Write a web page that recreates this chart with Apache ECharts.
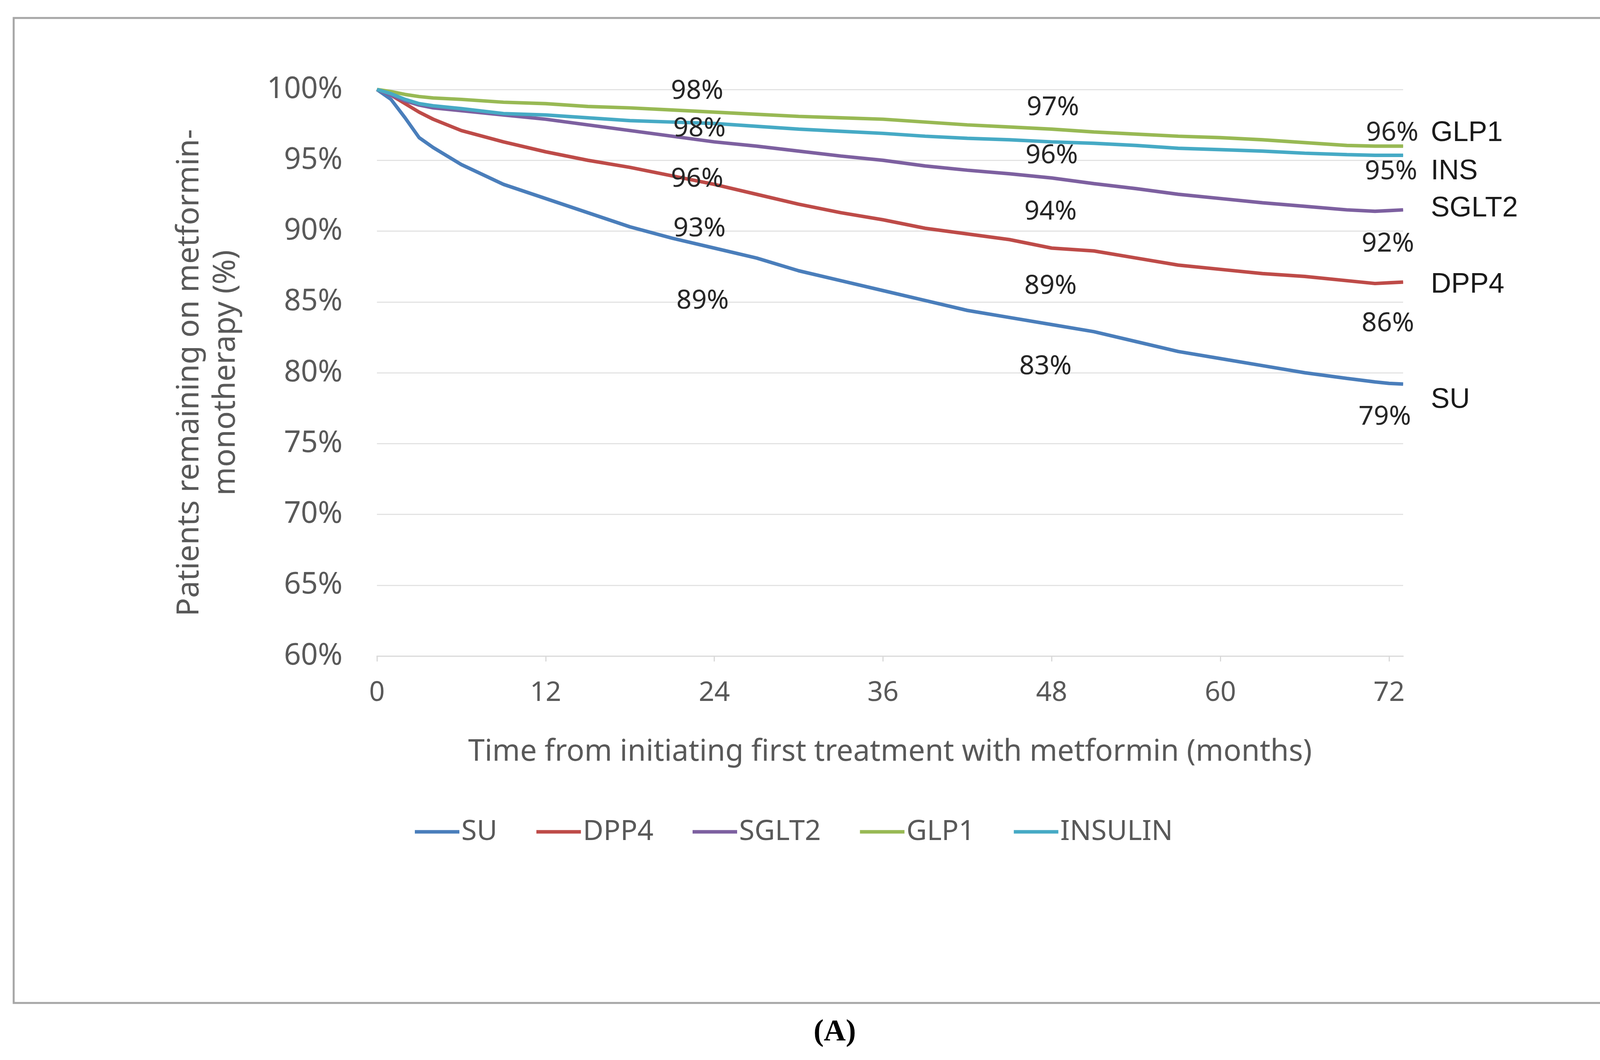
<!DOCTYPE html>
<html>
<head>
<meta charset="utf-8">
<script src="https://cdn.jsdelivr.net/npm/echarts@6/dist/echarts.min.js"></script>
<style>
html,body{margin:0;padding:0;background:#fff;}
#chart{width:4273px;height:2713px;}
</style>
</head>
<body>
<div id="chart"></div>
<script>
// ---- data ----
const months = [0,1,2,3,4,6,9,12,15,18,21,24,27,30,33,36,39,42,45,48,51,54,57,60,63,66,69,71,72,73];
const su    = [100,99.3,98.0,96.6,95.9,94.7,93.3,92.3,91.3,90.3,89.5,88.8,88.1,87.2,86.5,85.8,85.1,84.4,83.9,83.4,82.9,82.2,81.5,81.0,80.5,80.0,79.6,79.35,79.25,79.2];
const dpp4  = [100,99.6,99.0,98.4,97.9,97.1,96.3,95.6,95.0,94.5,93.9,93.3,92.6,91.9,91.3,90.8,90.2,89.8,89.4,88.8,88.6,88.1,87.6,87.3,87.0,86.8,86.5,86.3,86.35,86.4];
const sglt2 = [100,99.6,99.2,98.9,98.7,98.5,98.2,97.9,97.5,97.1,96.7,96.3,96.0,95.65,95.3,95.0,94.6,94.3,94.05,93.75,93.35,93.0,92.6,92.3,92.0,91.75,91.5,91.4,91.45,91.5];
const glp1  = [100,99.85,99.65,99.5,99.4,99.3,99.1,99.0,98.8,98.7,98.55,98.4,98.25,98.1,98.0,97.9,97.7,97.5,97.35,97.2,97.0,96.85,96.7,96.6,96.45,96.25,96.05,96.0,96.0,96.0];
const insulin=[100,99.7,99.3,99.0,98.85,98.65,98.3,98.2,98.0,97.8,97.7,97.6,97.4,97.2,97.05,96.9,96.7,96.55,96.45,96.3,96.2,96.05,95.85,95.75,95.65,95.5,95.4,95.35,95.35,95.35];

const seriesNames = ['SU','DPP4','SGLT2','GLP1','INSULIN'];
const endNames    = ['SU','DPP4','SGLT2','GLP1','INS'];
const labelMonths = [24, 48, 72];
const suLabels    = ['89%','83%','79%'];
const dpp4Labels  = ['93%','89%','86%'];
const sglt2Labels = ['96%','94%','92%'];
const glp1Labels  = ['98%','97%','96%'];
const insLabels   = ['98%','96%','95%'];
const yTicks = [60,65,70,75,80,85,90,95,100];
const xTicks = [0,12,24,36,48,60,72];

// ---- styling (not data) ----
const colors = ['#4A7EBB','#BE4B48','#7D60A0','#98B954','#46AAC5'];
const valueOffsets = [
  [[-30,136],[-16,108],[-11,86]],
  [[-38,114],[-3,98],[-3,105]],
  [[-44,95],[-3,87],[-3,86]],
  [[-44,-53],[3,-55],[8,-33]],
  [[-38,14],[0,35],[5,42]]
];
const nameOffsets = [[71,41],[71,7],[71,-3],[71,-33],[71,42]];

const allValues = [su, dpp4, sglt2, glp1, insulin];
const allLabels = [suLabels, dpp4Labels, sglt2Labels, glp1Labels, insLabels];

const series = seriesNames.map((name, si) => {
  const vals = allValues[si];
  const data = months.map((m, i) => {
    const item = { value: [m, vals[i]] };
    const li = labelMonths.indexOf(m);
    if (li >= 0) {
      item.label = {
        show: true, position: 'inside', formatter: allLabels[si][li],
        offset: valueOffsets[si][li], align: 'center', verticalAlign: 'middle',
        fontFamily: 'Noto Sans', fontSize: 68, color: '#262626'
      };
    } else if (i === months.length - 1) {
      item.label = {
        show: true, position: 'inside', formatter: endNames[si],
        offset: nameOffsets[si], align: 'left', verticalAlign: 'middle',
        fontFamily: 'Liberation Sans', fontSize: 72, color: '#1a1a1a'
      };
    }
    return item;
  });
  return {
    name, type: 'line', data,
    symbol: 'circle', symbolSize: 1, showSymbol: true,
    lineStyle: { color: colors[si], width: 9 },
    itemStyle: { color: colors[si] },
    label: { show: false },
    emphasis: { disabled: true },
    z: 2 + si
  };
});

const chart = echarts.init(document.getElementById('chart'), null, {renderer: 'canvas'});
chart.setOption({
  animation: false,
  backgroundColor: '#fff',
  color: colors,
  grid: { left: 965, right: 681, top: 229, bottom: 1034, containLabel: false },
  xAxis: {
    type: 'value', min: 0, max: 73, interval: 12,
    name: 'Time from initiating first treatment with metformin (months)',
    nameLocation: 'middle', nameGap: 208,
    nameTextStyle: { fontFamily: 'Noto Sans', fontSize: 76, color: '#595959' },
    axisLine: { show: true, lineStyle: { color: '#d9d9d9', width: 3 } },
    axisTick: { show: true, length: 14, lineStyle: { color: '#d9d9d9', width: 3 } },
    axisLabel: {
      margin: 60, fontFamily: 'Noto Sans', fontSize: 70, color: '#595959',
      showMaxLabel: false,
      formatter: v => (xTicks.indexOf(v) >= 0 ? String(v) : '')
    },
    splitLine: { show: false }
  },
  yAxis: {
    type: 'value', min: 60, max: 100, interval: 5,
    name: 'Patients remaining on metformin-\nmonotherapy (%)',
    nameLocation: 'middle', nameRotate: 90, nameGap: 340,
    nameTextStyle: { fontFamily: 'Noto Sans', fontSize: 78, lineHeight: 93, color: '#595959', align: 'center' },
    axisLine: { show: false },
    axisTick: { show: false },
    axisLabel: {
      margin: 88, fontFamily: 'Noto Sans', fontSize: 76, color: '#595959',
      formatter: v => (yTicks.indexOf(v) >= 0 ? v + '%' : '')
    },
    splitLine: { show: true, lineStyle: { color: '#e3e3e3', width: 3 } }
  },
  legend: {
    data: seriesNames,
    left: 1057, top: 2088,
    orient: 'horizontal',
    itemWidth: 114, itemHeight: 9, itemGap: 100,
    icon: 'rect',
    textStyle: { fontFamily: 'Noto Sans', fontSize: 72, color: '#595959', padding: [0,0,0,0] }
  },
  series,
  graphic: [
    { type: 'rect', shape: { x: 35, y: 46, width: 4197, height: 2521 },
      style: { fill: 'none', stroke: '#a6a6a6', lineWidth: 5 }, silent: true },
    { type: 'text', x: 2137, y: 2643,
      style: { text: '(A)', fontFamily: 'Liberation Serif', fontWeight: 'bold', fontSize: 78,
               fill: '#000', align: 'center', verticalAlign: 'middle' }, silent: true }
  ]
});
</script>
</body>
</html>
